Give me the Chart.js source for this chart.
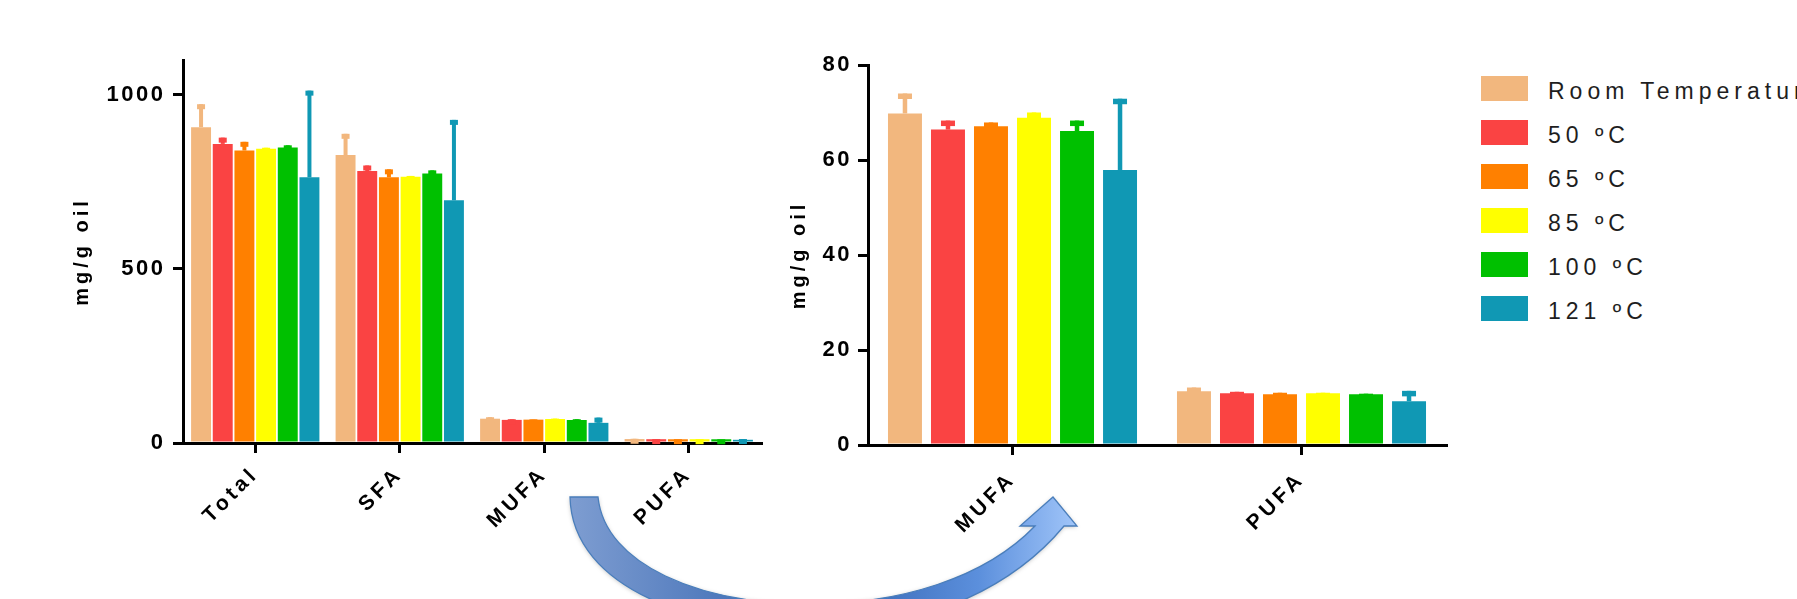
<!DOCTYPE html>
<html><head><meta charset="utf-8">
<script src="https://cdn.jsdelivr.net/npm/chart.js@4.4.1/dist/chart.umd.min.js"></script>
<style>
html,body{margin:0;padding:0;background:#fff;overflow:hidden;width:1797px;height:599px;}
#wrap{position:relative;width:1797px;height:599px;overflow:hidden;background:#fff;}
canvas{position:absolute;top:0;}
#left{left:0}
#right{left:700px}
#arrow{left:0;pointer-events:none}
.lg-box{position:absolute;width:47px;height:25px}
.lg-txt{position:absolute;font-family:'Liberation Sans',Arial,sans-serif;font-size:23px;letter-spacing:5px;color:#1e1e1e;white-space:nowrap;line-height:25px}
</style></head><body><div id="wrap">
<canvas id="left" width="780" height="599"></canvas>
<canvas id="right" width="760" height="599"></canvas>
<div id="legend"></div>
<canvas id="arrow" width="1797" height="599"></canvas>
</div>
<script>
// ---- data ----
const seriesLabels = ['Room Temperature', '50 \u00baC', '65 \u00baC', '85 \u00baC', '100 \u00baC', '121 \u00baC'];
const seriesColors = ['#F2B77E', '#FA4343', '#FF8000', '#FFFF00', '#00C000', '#1098B4'];
const leftCategories = ['Total', 'SFA', 'MUFA', 'PUFA'];
const rightCategories = ['MUFA', 'PUFA'];
const totalMean = [907, 859, 840, 845, 849, 763];
const totalErr  = [66, 18, 25, 3, 6, 249];
const sfaMean   = [827, 781, 763, 765, 774, 697];
const sfaErr    = [61, 16, 23, 2, 9, 231];
const mufaMean  = [69.8, 66.4, 67.1, 68.9, 66.1, 57.9];
const mufaErr   = [4.2, 1.9, 0.8, 1.1, 2.2, 15.0];
const pufaMean  = [11.3, 10.9, 10.7, 10.9, 10.7, 9.2];
const pufaErr   = [0.8, 0.3, 0.3, 0.1, 0.1, 2.2];
const leftTicks  = [0, 500, 1000];
const rightTicks = [0, 20, 40, 60, 80];
const yTitle = 'mg/g oil';

const FONT = "'Liberation Sans', Arial, Helvetica, sans-serif";

// ---- plugins ----
const errorBars = {
  id: 'errorBars',
  afterDatasetsDraw(chart, args, opts) {
    const ctx = chart.ctx, y = chart.scales.y;
    chart.data.datasets.forEach((ds, di) => {
      const meta = chart.getDatasetMeta(di);
      meta.data.forEach((bar, i) => {
        const top = y.getPixelForValue(ds.data[i] + ds.errors[i]);
        ctx.save();
        ctx.fillStyle = ds.backgroundColor;
        ctx.fillRect(bar.x - opts.stem / 2, top, opts.stem, bar.y - top);
        ctx.fillRect(bar.x - opts.cap / 2, top, opts.cap, opts.capH);
        ctx.restore();
      });
    });
  }
};
const spacing = {
  id: 'spacing',
  afterLayout(chart, args, opts) {
    for (const id in chart.scales) {
      const s = chart.scales[id];
      if (s._lsPatched) continue;
      s._lsPatched = true;
      const cfg = opts[id] || {};
      const dl = s.drawLabels, dt = s.drawTitle;
      s.drawLabels = function (a) { const c = this.ctx, p = c.letterSpacing; c.letterSpacing = cfg.labels || '0px'; dl.call(this, a); c.letterSpacing = p; };
      s.drawTitle = function (a) { const c = this.ctx, p = c.letterSpacing; c.letterSpacing = cfg.title || '0px'; dt.call(this, a); c.letterSpacing = p; };
    }
  }
};

function makeDatasets(means, errs) {
  return seriesLabels.map((lab, i) => ({
    label: lab,
    data: means.map(arr => arr[i]),
    errors: errs.map(arr => arr[i]),
    backgroundColor: seriesColors[i],
    borderWidth: 0
  }));
}

function makeOptions(o) {
  return {
    responsive: false,
    animation: false,
    events: [],
    layout: { padding: { top: o.top, right: o.right, left: 0, bottom: 0 } },
    datasets: { bar: { categoryPercentage: o.catPct, barPercentage: o.barPct } },
    plugins: {
      legend: { display: false },
      tooltip: { enabled: false },
      errorBars: o.err,
      spacing: { x: { labels: '4px' }, y: { labels: '2.5px', title: '4px' } }
    },
    scales: {
      x: {
        offset: true,
        grid: { drawOnChartArea: false, drawTicks: true, tickLength: 10, color: '#000', lineWidth: 3, offset: false },
        border: { display: true, color: '#000', width: 3 },
        ticks: { color: '#000', font: { family: FONT, size: 21, weight: 'bold' }, minRotation: 45, maxRotation: 45, autoSkip: false, padding: o.xpad },
        afterFit: s => { s.height = o.xh; }
      },
      y: {
        min: 0, max: o.max,
        grid: { drawOnChartArea: false, drawTicks: true, tickLength: 10, color: '#000', lineWidth: 3 },
        border: { display: true, color: '#000', width: 3 },
        afterBuildTicks: s => { s.ticks = o.ticks.map(v => ({ value: v })); },
        ticks: { color: '#000', font: { family: FONT, size: 22, weight: 'bold' }, padding: o.ypad, callback: v => String(v) },
        title: { display: true, text: yTitle, color: '#000', font: { family: FONT, size: 20, weight: 'bold' }, padding: { top: o.titlePad, bottom: 0 } },
        afterFit: s => { s.width = o.yw; }
      }
    }
  };
}

new Chart(document.getElementById('left'), {
  type: 'bar',
  data: { labels: leftCategories, datasets: makeDatasets([totalMean, sfaMean, mufaMean, pufaMean], [totalErr, sfaErr, mufaErr, pufaErr]) },
  options: makeOptions({ top: 60, right: 19, catPct: 0.9, barPct: 0.92, err: { stem: 4, cap: 8, capH: 5 }, xpad: 9, xh: 156, max: 1100, ticks: leftTicks, ypad: 7.5, titlePad: 70.5, yw: 183 }),
  plugins: [errorBars, spacing]
});

new Chart(document.getElementById('right'), {
  type: 'bar',
  data: { labels: rightCategories, datasets: makeDatasets([mufaMean, pufaMean], [mufaErr, pufaErr]) },
  options: makeOptions({ top: 65, right: 14, catPct: 0.893, barPct: 0.79, err: { stem: 4.5, cap: 14, capH: 5.5 }, xpad: 12, xh: 154, max: 80, ticks: rightTicks, ypad: 6, titlePad: 87, yw: 168 }),
  plugins: [errorBars, spacing]
});

// ---- legend ----
const lg = document.getElementById('legend');
seriesLabels.forEach((lab, i) => {
  const b = document.createElement('div');
  b.className = 'lg-box';
  b.style.left = '1481px'; b.style.top = (76 + 44 * i) + 'px'; b.style.background = seriesColors[i];
  lg.appendChild(b);
  const t = document.createElement('div');
  t.className = 'lg-txt';
  t.style.left = '1548px'; t.style.top = (79 + 44 * i) + 'px';
  t.textContent = lab;
  lg.appendChild(t);
});

// ---- decorative curved arrow ----
(function () {
  const ac = document.getElementById('arrow').getContext('2d');
  const g = ac.createLinearGradient(570, 0, 1080, 0);
  g.addColorStop(0, '#7e9dd1');
  g.addColorStop(0.35, '#4672b8');
  g.addColorStop(0.6, '#3f70bd');
  g.addColorStop(0.8, '#5b8fdc');
  g.addColorStop(1, '#a3c7fa');
  ac.beginPath();
  ac.moveTo(570, 497);
  ac.bezierCurveTo(572, 590, 700, 632, 820, 630);
  ac.bezierCurveTo(930, 628, 1015, 585, 1064, 526);
  ac.lineTo(1077, 526);
  ac.lineTo(1053, 497);
  ac.lineTo(1020, 526);
  ac.lineTo(1035, 526);
  ac.bezierCurveTo(985, 578, 900, 604, 810, 604);
  ac.bezierCurveTo(700, 604, 605, 565, 598, 497);
  ac.closePath();
  ac.save();
  ac.shadowColor = 'rgba(0,0,0,0.25)';
  ac.shadowBlur = 4;
  ac.shadowOffsetY = 1;
  ac.fillStyle = g;
  ac.fill();
  ac.restore();
  ac.strokeStyle = '#4a7ebb';
  ac.lineWidth = 1.3;
  ac.stroke();
})();
</script>
</body></html>
